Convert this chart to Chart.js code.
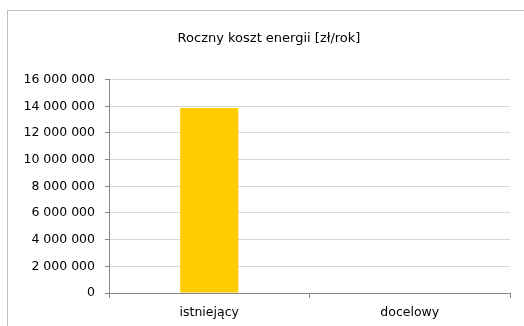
<!DOCTYPE html>
<html><head><meta charset="utf-8">
<script src="https://cdn.jsdelivr.net/npm/chart.js@4"></script>
<style>
html,body{margin:0;padding:0;overflow:hidden;background:#fff;width:524px;height:326px;}
#frame{position:absolute;left:7px;top:10px;width:524px;height:340px;border:1px solid #bfbfbf;box-sizing:border-box;}
#wrap{position:absolute;left:0;top:0;width:522px;height:330px;}
</style></head>
<body>
<div id="frame"><div id="wrap"><canvas id="c"></canvas></div></div>
<script>
const categories = ["istniejący", "docelowy"];
const costValues = [13880000, 0];
const yTickMax = 16000000;
const yTickStep = 2000000;
const chartTitle = "Roczny koszt energii [zł/rok]";

const FONT = "'DejaVu Sans', sans-serif";
function fmt(v){ return String(Math.round(v)).replace(/\B(?=(\d{3})+(?!\d))/g, " "); }

new Chart(document.getElementById('c'), {
  type: 'bar',
  data: {
    labels: categories,
    datasets: [{
      data: costValues,
      backgroundColor: '#ffcc00',
      borderWidth: 0,
      categoryPercentage: 1,
      barPercentage: 0.29
    }]
  },
  options: {
    responsive: true,
    maintainAspectRatio: false,
    animation: false,
    devicePixelRatio: 1,
    layout: { padding: 0 },
    plugins: {
      legend: { display: false },
      tooltip: { enabled: false },
      title: {
        display: true, text: chartTitle, color: '#000',
        font: { family: FONT, size: 13, weight: 'normal' },
        padding: { top: 20, bottom: 33 }
      }
    },
    scales: {
      x: {
        offset: true,
        grid: { offset: true, drawOnChartArea: false, drawTicks: true, tickLength: 5, color: '#868686' },
        border: { color: '#868686' },
        ticks: { color: '#000', font: { family: FONT, size: 12.5 }, padding: 7 },
        afterFit: s => { s.height = 48; }
      },
      y: {
        min: 0, max: yTickMax,
        grid: { color: '#d9d9d9', tickColor: '#868686', tickLength: 4 },
        border: { color: '#868686' },
        ticks: { stepSize: yTickStep, color: '#000', font: { family: FONT, size: 12.5 }, padding: 10, callback: v => fmt(v) },
        afterFit: s => { s.width = 101; }
      },
      pad: {
        position: 'right',
        display: true,
        grid: { display: false, drawTicks: false },
        border: { display: false },
        ticks: { display: false },
        afterFit: s => { s.width = 20; }
      }
    }
  }
});
</script>
</body></html>
